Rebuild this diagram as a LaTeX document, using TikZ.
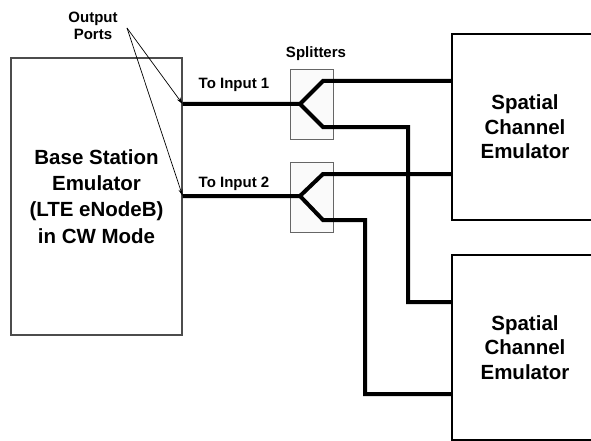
\documentclass[tikz,border=0pt]{standalone}
\usepackage{fontspec}
\setmainfont{Liberation Sans}
\usetikzlibrary{arrows.meta}
\tikzstyle{bsbox} = [rectangle, draw = black!70, line width = 1.2pt, align = center, font = \bfseries\fontsize{20.5}{26.3}\selectfont]
\tikzstyle{emubox} = [rectangle, draw = black, line width = 2.2pt, align = center, font = \bfseries\fontsize{20.5}{24.5}\selectfont]
\tikzstyle{splitbox} = [rectangle, draw = black!60, fill = black!2, line width = 0.8pt, minimum width = 43pt, minimum height = 70pt]
\tikzstyle{lbl} = [align = center, font = \bfseries\fontsize{15}{17}\selectfont]
\tikzstyle{cable} = [line width = 4pt]
\tikzstyle{pointer} = [-{Stealth[length=7pt,width=4pt]}, line width = 0.7pt]

\begin{document}
\begin{tikzpicture}[x = 1pt, y = -1pt]
        \clip (0,0) rectangle (591,441);
        % boxes
        \node (bs) [bsbox, minimum width = 171pt, minimum height = 277pt] at (96.5,196.5) {Base Station\\Emulator\\(LTE eNodeB)\\in CW Mode};
        \node (sp1) [splitbox] at (311.5,104) {};
        \node (sp2) [splitbox] at (311.5,197) {};
        \node (sce1) [emubox, minimum width = 146pt, minimum height = 186pt] at (525,127) {Spatial\\Channel\\Emulator};
        \node (sce2) [emubox, minimum width = 146pt, minimum height = 185pt] at (525,347.5) {Spatial\\Channel\\Emulator};
        % labels
        \node (ports) [lbl] at (93,26) {Output\\Ports};
        \node (in1) [lbl] at (234,85) {To Input 1};
        \node (in2) [lbl] at (234,184) {To Input 2};
        \node (split) [lbl] at (316,54) {Splitters};
        % split and bend points
        \coordinate (s1) at (300,104);
        \coordinate (s1a) at (323,81);
        \coordinate (s1b) at (323,127);
        \coordinate (s2) at (300,196);
        \coordinate (s2a) at (323,174);
        \coordinate (s2b) at (323,220);
        \coordinate (b1) at (408,302);
        \coordinate (b2) at (365,394);
        \coordinate (ptr) at (127,28);
        % cables
        \draw [cable] (bs.east |- s1) -- (s1) -- (s1a) -- (s1a -| sce1.west);
        \draw [cable] (s1) -- (s1b) -| (b1) -- (b1 -| sce2.west);
        \draw [cable] (bs.east |- s2) -- (s2) -- (s2a) -- (s2a -| sce1.west);
        \draw [cable] (s2) -- (s2b) -| (b2) -- (b2 -| sce2.west);
        % port pointers
        \draw [pointer] (ptr) -- (bs.east |- s1);
        \draw [pointer] (ptr) -- (bs.east |- s2);
\end{tikzpicture}
\end{document}
